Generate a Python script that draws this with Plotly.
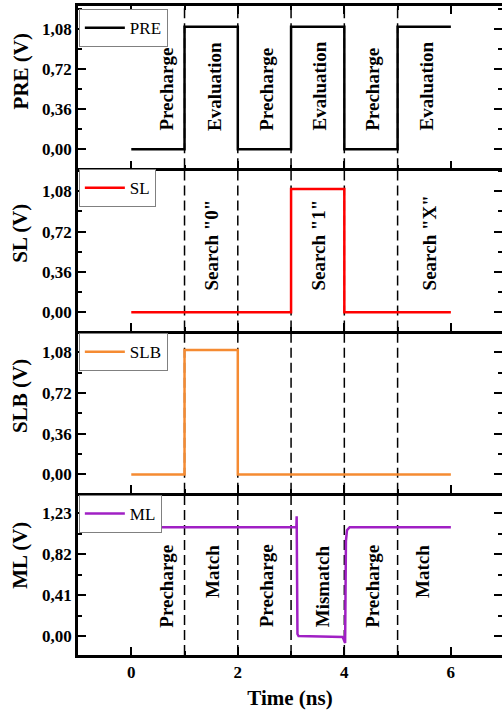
import plotly.graph_objects as go
from plotly.subplots import make_subplots

# ---- data ----
pre_t = [0, 1, 1, 2, 2, 3, 3, 4, 4, 5, 5, 6]
pre_v = [0, 0, 1.1, 1.1, 0, 0, 1.1, 1.1, 0, 0, 1.1, 1.1]

sl_t = [0, 3, 3, 4, 4, 6]
sl_v = [0, 0, 1.1, 1.1, 0, 0]

slb_t = [0, 1, 1, 2, 2, 6]
slb_v = [0, 0, 1.1, 1.1, 0, 0]

ml_t = [0, 3.10, 3.105, 3.12, 3.14, 3.97, 4.015, 4.03, 4.05, 4.1, 6]
ml_v = [1.09, 1.09, 1.2, 0.02, 0.0, -0.01, -0.07, 0.95, 1.06, 1.09, 1.09]

phase_edges = [1, 2, 3, 4, 5]

pre_labels = ["Precharge", "Evaluation", "Precharge", "Evaluation", "Precharge", "Evaluation"]
pre_label_x = [0.66, 1.55, 2.54, 3.53, 4.53, 5.54]
sl_labels = ['Search "0"', 'Search "1"', 'Search "X"']
sl_label_x = [1.51, 3.52, 5.6]
ml_labels = ["Precharge", "Match", "Precharge", "Mismatch", "Precharge", "Match"]
ml_label_x = [0.66, 1.53, 2.53, 3.59, 4.53, 5.47]

y_titles = ["PRE (V)", "SL (V)", "SLB (V)", "ML (V)"]
y_ticks_dt = [0.36, 0.36, 0.36, 0.41]
y_ranges = [[-0.17, 1.285], [-0.163, 1.286], [-0.162, 1.272], [-0.19, 1.435]]
x_range = [-1, 6.96]

FONT = "Liberation Serif"
W, H = 502, 711
ML_, MR, MT, MB = 78, 0, 6, 56

fig = make_subplots(rows=4, cols=1, shared_xaxes=True, vertical_spacing=0)

series = [
    ("PRE", pre_t, pre_v, "#000000"),
    ("SL", sl_t, sl_v, "#FF0000"),
    ("SLB", slb_t, slb_v, "#F58B32"),
    ("ML", ml_t, ml_v, "#A020C4"),
]
for i, (name, t, v, c) in enumerate(series):
    lg = "legend" if i == 0 else f"legend{i+1}"
    fig.add_trace(go.Scatter(x=t, y=v, mode="lines", name=name,
                             line=dict(color=c, width=2.5),
                             legend=lg, showlegend=True), row=i + 1, col=1)

plot_h = H - MT - MB
legend_tops_px = [9.3, 169.3, 333.3, 495]
for i, top in enumerate(legend_tops_px):
    key = "legend" if i == 0 else f"legend{i+1}"
    fig.update_layout(**{key: dict(
        x=0.002, y=(H - MB - top) / plot_h, xanchor="left", yanchor="top",
        bgcolor="white", bordercolor="#808080", borderwidth=1,
        font=dict(family=FONT, size=17, color="black"),
        itemwidth=40, tracegroupgap=0,
    )})

for i in range(4):
    r = i + 1
    fig.update_yaxes(row=r, col=1, range=y_ranges[i], tick0=0, dtick=y_ticks_dt[i],
                     tickformat=".2f", ticks="inside", ticklen=8, tickwidth=2,
                     tickcolor="black", showline=True, linewidth=2.5, linecolor="black",
                     mirror="allticks", showgrid=False, zeroline=False, automargin=False,
                     tickfont=dict(family=FONT, size=17, color="black", weight="bold"),
                     minor=dict(ticks="inside", ticklen=4, tickwidth=2, tickcolor="black",
                                dtick=y_ticks_dt[i] / 2, tick0=0, showgrid=False))
    fig.update_xaxes(row=r, col=1, range=x_range, tick0=0, dtick=2,
                     ticks="inside", ticklen=8, tickwidth=2, tickcolor="black",
                     showline=True, linewidth=2.5, linecolor="black",
                     mirror="allticks" if i == 0 else False,
                     showgrid=False, zeroline=False, automargin=False,
                     tickfont=dict(family=FONT, size=17, color="black", weight="bold"),
                     minor=dict(ticks="inside", ticklen=4, tickwidth=2, tickcolor="black",
                                dtick=1, tick0=0, showgrid=False))
    for e in phase_edges:
        fig.add_shape(type="line", xref=f"x{'' if r == 1 else r}",
                      yref=f"y{'' if r == 1 else r} domain",
                      x0=e, x1=e, y0=0, y1=1, layer="below",
                      line=dict(color="black", width=1.5, dash="10px,5px"))
    fig.add_annotation(text=y_titles[i], textangle=-90, xref="paper",
                       yref=f"y{'' if r == 1 else r} domain",
                       x=(20.5 - ML_) / (W - ML_ - MR), y=0.6 if i < 3 else 0.615,
                       xanchor="center", yanchor="middle", showarrow=False,
                       font=dict(family=FONT, size=21, color="black", weight="bold"))

fig.update_xaxes(row=4, col=1, title=dict(text="Time (ns)", standoff=10,
                 font=dict(family=FONT, size=21, color="black", weight="bold")))

ann_font = dict(family=FONT, size=19, color="black", weight="bold")
for txt, x in zip(pre_labels, pre_label_x):
    fig.add_annotation(text=txt, x=x, y=0.149, xref="x", yref="y", textangle=-90,
                       xanchor="center", yanchor="bottom", showarrow=False, font=ann_font)
for txt, x in zip(sl_labels, sl_label_x):
    fig.add_annotation(text=txt, x=x, y=0.178, xref="x2", yref="y2", textangle=-90,
                       xanchor="center", yanchor="bottom", showarrow=False, font=ann_font)
for txt, x in zip(ml_labels, ml_label_x):
    fig.add_annotation(text=txt, x=x, y=0.934, xref="x4", yref="y4", textangle=-90,
                       xanchor="center", yanchor="top", showarrow=False, font=ann_font)

fig.update_layout(width=W, height=H, margin=dict(l=ML_, r=MR, t=MT, b=MB),
                  plot_bgcolor="white", paper_bgcolor="white",
                  separators=",.", showlegend=True)

fig.write_html("out.html", config={"displayModeBar": False},
               post_script="document.body.style.margin='0';document.body.style.overflow='hidden';")
